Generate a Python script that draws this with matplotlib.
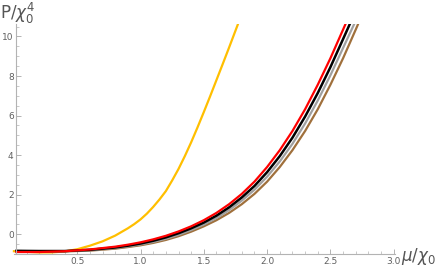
import matplotlib
matplotlib.use("Agg")
import matplotlib.pyplot as plt
import numpy as np
from matplotlib.ticker import FixedLocator

# values
mu_yellow = [0.0, 0.1, 0.2, 0.3, 0.4, 0.5, 0.6, 0.7, 0.8, 0.9, 0.95, 1.0, 1.05, 1.1, 1.15, 1.2, 1.25, 1.3, 1.35,
             1.4, 1.45, 1.5, 1.55, 1.6, 1.65, 1.7, 1.78]
p_yellow = [-0.86, -0.89, -0.92, -0.92, -0.87, -0.76, -0.58, -0.36, -0.07, 0.30, 0.51, 0.75, 1.04, 1.38, 1.76, 2.18,
            2.72, 3.30, 3.95, 4.65, 5.40, 6.18, 6.98, 7.80, 8.62, 9.45, 10.8]

mu_grid = [0.02, 0.2, 0.4, 0.6, 0.8, 0.9, 1.0, 1.1, 1.2, 1.3, 1.4, 1.5, 1.6, 1.7, 1.8, 1.9, 2.0, 2.1, 2.2, 2.3, 2.4,
           2.5, 2.6, 2.7, 2.75]
p_red = [-0.90, -0.90, -0.86, -0.77, -0.63, -0.53, -0.41, -0.26, -0.08, 0.14, 0.40, 0.71, 1.08, 1.52, 2.04, 2.66,
         3.40, 4.25, 5.22, 6.32, 7.56, 8.90, 10.35, 11.8, 12.5]
p_black = [-0.84, -0.85, -0.85, -0.79, -0.67, -0.58, -0.47, -0.33, -0.16, 0.05, 0.30, 0.59, 0.94, 1.36, 1.86, 2.44,
           3.14, 3.95, 4.88, 5.95, 7.14, 8.45, 9.87, 11.3, 12.0]
p_gray = [-0.85, -0.86, -0.86, -0.81, -0.70, -0.62, -0.52, -0.39, -0.23, -0.03, 0.21, 0.49, 0.82, 1.22, 1.70, 2.25,
          2.91, 3.68, 4.57, 5.60, 6.76, 8.04, 9.42, 10.8, 11.5]
p_brown = [-0.86, -0.87, -0.87, -0.83, -0.73, -0.65, -0.56, -0.44, -0.29, -0.10, 0.13, 0.40, 0.71, 1.08, 1.52, 2.04,
           2.66, 3.40, 4.25, 5.22, 6.32, 7.56, 8.90, 10.35, 11.1]

x_ticks = [0.5, 1.0, 1.5, 2.0, 2.5, 3.0]
x_ticklabels = ["0.5", "1.0", "1.5", "2.0", "2.5", "3.0"]
y_ticks = [0, 2, 4, 6, 8, 10]

axis_gray = "#b3b3b3"
label_gray = "#606060"

fig = plt.figure(figsize=(4.36, 2.67), dpi=100)
ax = fig.add_axes([0.0, 13 / 267, 395 / 436, 230 / 267])

ax.plot(mu_yellow, p_yellow, color="#ffbf00", lw=1.6)
ax.plot(mu_grid, p_brown, color="#a0703c", lw=1.6)
ax.plot(mu_grid, p_gray, color="#a0a0a0", lw=1.6)
ax.plot(mu_grid, p_black, color="black", lw=1.8)
ax.plot(mu_grid, p_red, color="red", lw=1.6)

ax.set_xlim(-0.11, 3.01)
ax.set_ylim(-1.0, 10.63)

for s in ["top", "right"]:
    ax.spines[s].set_visible(False)
ax.spines["left"].set_position(("data", 0.02))
ax.spines["bottom"].set_bounds(0.0, 3.01)
for s in ["left", "bottom"]:
    ax.spines[s].set_color(axis_gray)
    ax.spines[s].set_linewidth(0.8)

ax.set_xticks(x_ticks)
ax.set_xticklabels(x_ticklabels)
ax.set_yticks(y_ticks)
# minor ticks only to the right of / above the axes origin
ax.xaxis.set_minor_locator(FixedLocator(np.round(np.arange(0.1, 3.01, 0.1), 2)))
ax.yaxis.set_minor_locator(FixedLocator(np.arange(-0.5, 10.6, 0.5)))
ax.tick_params(which="both", direction="in", color=axis_gray, labelcolor=label_gray, labelsize=6.5)
ax.tick_params(which="major", length=3.5, width=0.7)
ax.tick_params(which="minor", length=2, width=0.5)
ax.tick_params(axis="x", pad=2)
ax.tick_params(axis="y", pad=2)

fig.text(0.0, 1 - 19 / 267, r"P/$\chi_0^4$", fontsize=12, color="#555555", ha="left", va="baseline")
fig.text(401 / 436, 1 - 261 / 267, r"$\mu$/$\chi_0$", fontsize=12, color="#555555", ha="left", va="baseline")

fig.savefig("out.png", dpi=100)
